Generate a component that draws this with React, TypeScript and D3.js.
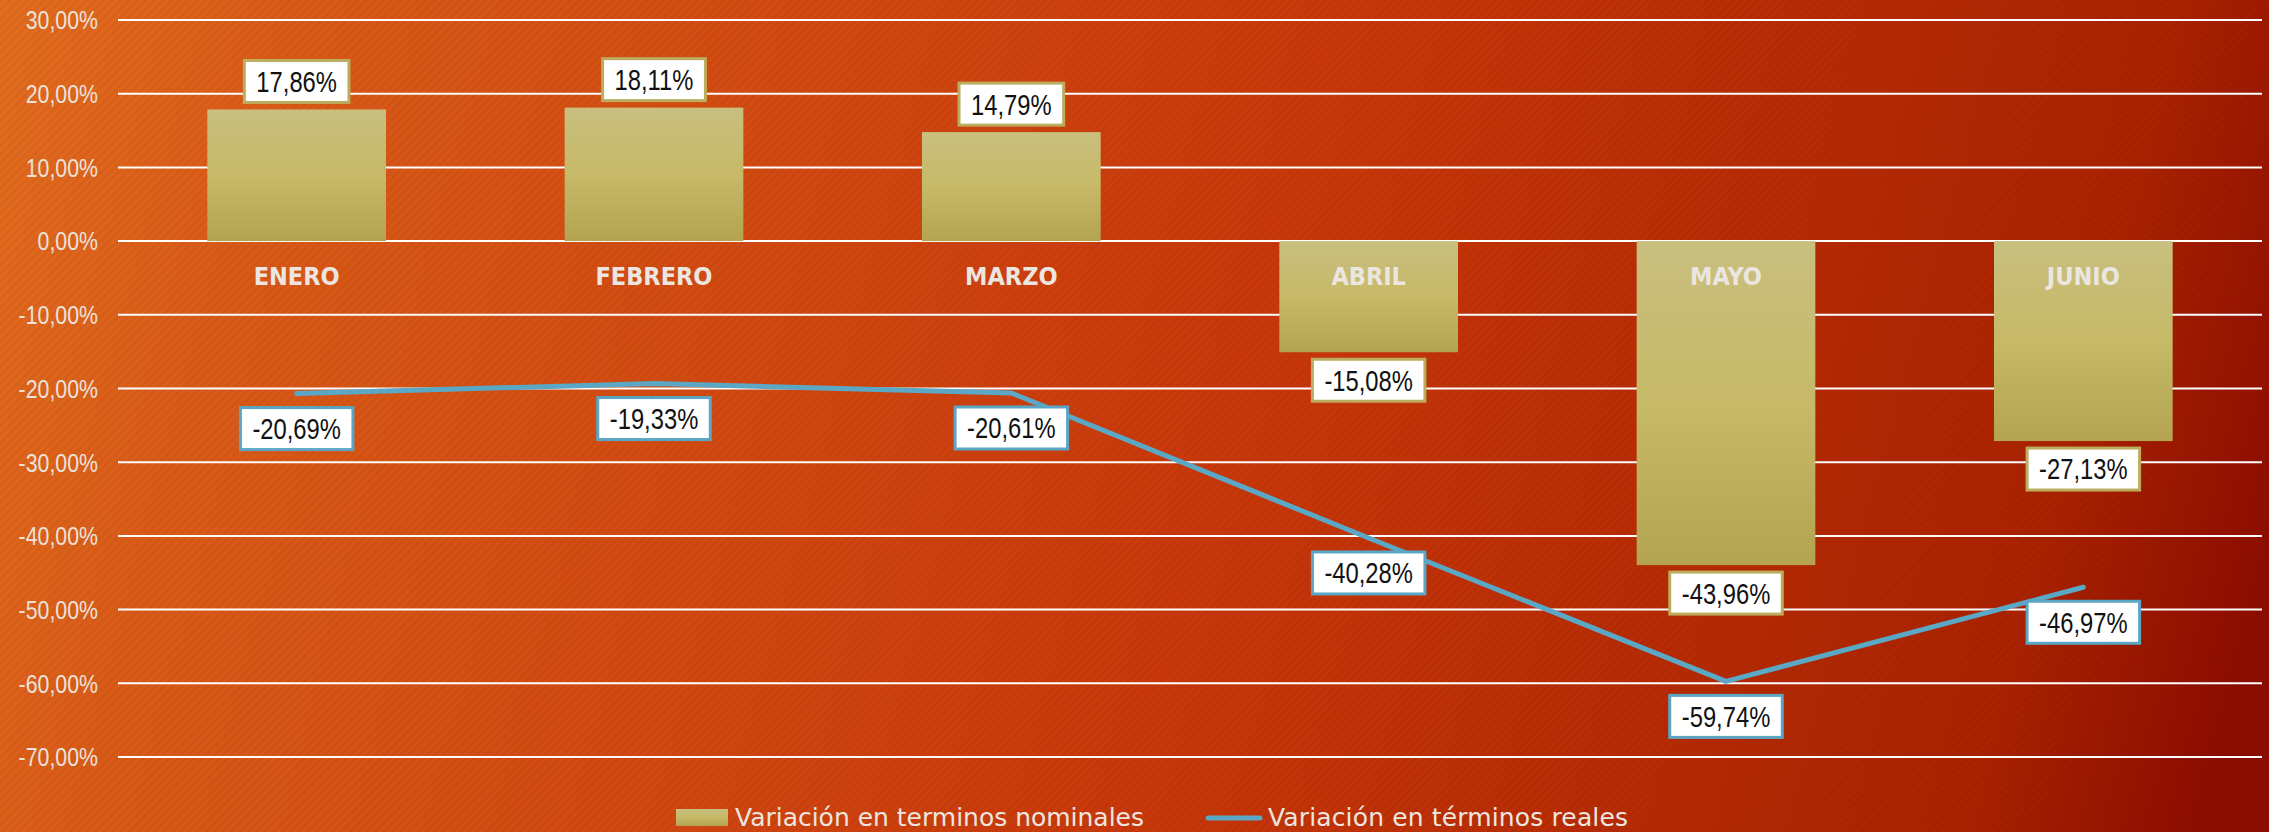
import { useEffect, useRef } from "react";
import * as d3 from "d3";

const months = ["ENERO", "FEBRERO", "MARZO", "ABRIL", "MAYO", "JUNIO"];
const nominal = [17.86, 18.11, 14.79, -15.08, -43.96, -27.13];
const real = [-20.69, -19.33, -20.61, -40.28, -59.74, -46.97];
const yTicks = [30, 20, 10, 0, -10, -20, -30, -40, -50, -60, -70];
const seriesNames = ["Variación en terminos nominales", "Variación en términos reales"];

const es = d3.formatLocale({ decimal: ",", thousands: ".", grouping: [3], currency: ["", "€"], minus: "-" });
const fmt = es.format(".2f");

// narrow look: Liberation Sans squeezed horizontally
const NARROW = 0.82;

const App = () => {
  const ref = useRef<HTMLDivElement>(null);

  useEffect(() => {
    document.body.style.margin = "0";
    const root = d3.select(ref.current);
    root.selectAll("*").remove();

    const width = 2269;
    const height = 832;
    const margin = { top: 20, right: 7, bottom: 75, left: 118 };

    const x = d3
      .scaleBand()
      .domain(months)
      .range([margin.left, width - margin.right])
      .paddingInner(0.5)
      .paddingOuter(0.25);
    const y = d3.scaleLinear().domain([-70, 30]).range([height - margin.bottom, margin.top]);
    const cx = (m: string) => (x(m) as number) + x.bandwidth() / 2;

    const svg = root
      .append("svg")
      .attr("width", width)
      .attr("height", height)
      .style("display", "block");

    const defs = svg.append("defs");
    const bg = defs
      .append("linearGradient")
      .attr("id", "bg")
      .attr("gradientUnits", "userSpaceOnUse")
      .attr("x1", 0)
      .attr("y1", 0)
      .attr("x2", width)
      .attr("y2", 600);
    [
      [0, "#e36d1f"],
      [0.12, "#da5b18"],
      [0.55, "#c9380a"],
      [0.9, "#aa2200"],
      [1, "#8d0c00"],
    ].forEach(([o, c]) => bg.append("stop").attr("offset", o).attr("stop-color", c));

    const barGrad = defs
      .append("linearGradient")
      .attr("id", "bar")
      .attr("x1", 0)
      .attr("y1", 0)
      .attr("x2", 0)
      .attr("y2", 1);
    [
      [0, "#c9bf7f"],
      [0.5, "#c6b967"],
      [1, "#b4a452"],
    ].forEach(([o, c]) => barGrad.append("stop").attr("offset", o).attr("stop-color", c));

    const stripes = defs
      .append("pattern")
      .attr("id", "stripes")
      .attr("width", 6)
      .attr("height", 6)
      .attr("patternUnits", "userSpaceOnUse")
      .attr("patternTransform", "rotate(45)");
    stripes
      .append("rect")
      .attr("width", 3)
      .attr("height", 6)
      .attr("fill", "rgba(0,0,0,0.035)");

    svg.append("rect").attr("width", width).attr("height", height).attr("fill", "url(#bg)");
    svg.append("rect").attr("width", width).attr("height", height).attr("fill", "url(#stripes)");

    // gridlines + y labels
    svg
      .append("g")
      .selectAll("line")
      .data(yTicks)
      .join("line")
      .attr("x1", margin.left)
      .attr("x2", width - margin.right)
      .attr("y1", (d) => y(d))
      .attr("y2", (d) => y(d))
      .attr("stroke", "#ffffff")
      .attr("stroke-width", 2);

    svg
      .append("g")
      .selectAll("text")
      .data(yTicks)
      .join("text")
      .attr("transform", (d) => `translate(98,${y(d)}) scale(${NARROW},1)`)
      .attr("dy", "0.36em")
      .attr("text-anchor", "end")
      .attr("font-family", "'Liberation Sans', sans-serif")
      .attr("font-size", 26)
      .attr("fill", "#ebe2dc")
      .text((d) => fmt(d) + "%");

    // bars
    svg
      .append("g")
      .selectAll("rect")
      .data(nominal)
      .join("rect")
      .attr("x", (_, i) => x(months[i]) as number)
      .attr("width", x.bandwidth())
      .attr("y", (d) => y(Math.max(0, d)))
      .attr("height", (d) => Math.abs(y(d) - y(0)))
      .attr("fill", "url(#bar)");

    // category labels
    svg
      .append("g")
      .selectAll("text")
      .data(months)
      .join("text")
      .attr("x", (d) => cx(d))
      .attr("y", y(0) + 35)
      .attr("dy", "0.36em")
      .attr("text-anchor", "middle")
      .attr("font-family", "'DejaVu Sans Condensed', sans-serif")
      .attr("font-weight", "bold")
      .attr("font-size", 25)
      .attr("fill", "#ebe6e0")
      .text((d) => d);

    // line
    const line = d3
      .line<number>()
      .x((_, i) => cx(months[i]))
      .y((d) => y(d));
    svg
      .append("path")
      .datum(real)
      .attr("d", line)
      .attr("fill", "none")
      .attr("stroke", "#5aa8c6")
      .attr("stroke-width", 5)
      .attr("stroke-linejoin", "round")
      .attr("stroke-linecap", "round");

    // data labels
    const boxH = 42;
    const drawLabel = (cxv: number, top: number, txt: string, border: string) => {
      const g = svg.append("g");
      const rect = g.append("rect");
      const t = g
        .append("text")
        .attr("transform", `translate(${cxv},${top + boxH / 2}) scale(${NARROW},1)`)
        .attr("dy", "0.36em")
        .attr("text-anchor", "middle")
        .attr("font-family", "'Liberation Sans', sans-serif")
        .attr("font-size", 29)
        .attr("fill", "#111111")
        .text(txt);
      const w = (t.node() as SVGTextElement).getComputedTextLength() * NARROW + 24;
      rect
        .attr("x", cxv - w / 2)
        .attr("y", top)
        .attr("width", w)
        .attr("height", boxH)
        .attr("fill", "#ffffff")
        .attr("stroke", border)
        .attr("stroke-width", 3);
    };

    nominal.forEach((v, i) => {
      const top = v >= 0 ? y(v) - 7 - boxH : y(v) + 7;
      drawLabel(cx(months[i]), top, fmt(v) + "%", "#bbac5e");
    });
    real.forEach((v, i) => {
      drawLabel(cx(months[i]), y(v) + 14, fmt(v) + "%", "#5aa6c4");
    });

    // legend
    const legend = svg
      .append("g")
      .attr("font-family", "'DejaVu Sans', sans-serif")
      .attr("font-size", 25)
      .attr("fill", "#ece6e0");
    legend.append("rect").attr("x", 676).attr("y", 809).attr("width", 52).attr("height", 17).attr("fill", "url(#bar)");
    legend.append("text").attr("x", 735).attr("y", 826).attr("textLength", 409).text(seriesNames[0]);
    legend
      .append("line")
      .attr("x1", 1208)
      .attr("x2", 1260)
      .attr("y1", 818)
      .attr("y2", 818)
      .attr("stroke", "#5aa8c6")
      .attr("stroke-width", 5)
      .attr("stroke-linecap", "round");
    legend.append("text").attr("x", 1268).attr("y", 826).attr("textLength", 360).text(seriesNames[1]);

    return () => {
      root.selectAll("*").remove();
    };
  }, []);

  return <div ref={ref}></div>;
};

export default App;
